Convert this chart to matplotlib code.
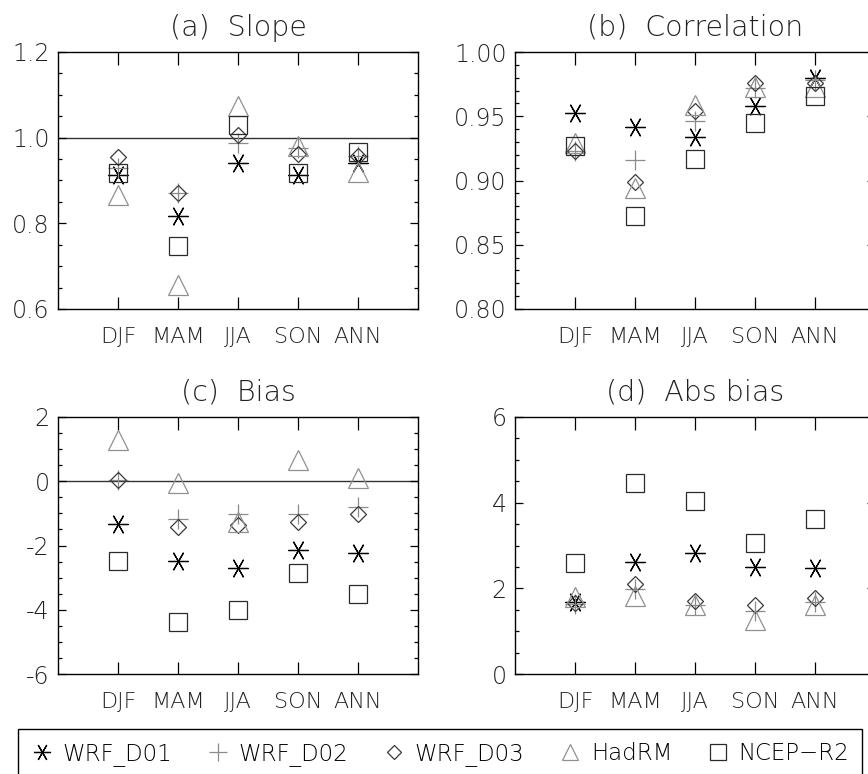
import matplotlib
matplotlib.use("Agg")
import matplotlib.pyplot as plt
from matplotlib.lines import Line2D
from matplotlib.ticker import MultipleLocator, FormatStrFormatter
import numpy as np

# Categories and series
seasons = ["DJF", "MAM", "JJA", "SON", "ANN"]
models = ["WRF_D01", "WRF_D02", "WRF_D03", "HadRM", "NCEP\u2212R2"]

# (a) Slope
slope = {
    "WRF_D01": [0.912, 0.818, 0.941, 0.914, 0.940],
    "WRF_D02": [0.930, 0.870, 0.988, 0.976, 0.958],
    "WRF_D03": [0.955, 0.871, 1.007, 0.963, 0.958],
    "HadRM": [0.867, 0.657, 1.075, 0.981, 0.921],
    "NCEP\u2212R2": [0.918, 0.748, 1.030, 0.917, 0.967],
}
# (b) Correlation
corr = {
    "WRF_D01": [0.9525, 0.942, 0.934, 0.958, 0.980],
    "WRF_D02": [0.923, 0.916, 0.946, 0.972, 0.978],
    "WRF_D03": [0.923, 0.899, 0.954, 0.976, 0.976],
    "HadRM": [0.929, 0.894, 0.959, 0.973, 0.973],
    "NCEP\u2212R2": [0.9265, 0.872, 0.917, 0.945, 0.9655],
}
# (c) Bias
bias = {
    "WRF_D01": [-1.32, -2.47, -2.70, -2.14, -2.22],
    "WRF_D02": [0.05, -1.17, -1.01, -1.01, -0.81],
    "WRF_D03": [0.05, -1.41, -1.35, -1.27, -1.03],
    "HadRM": [1.27, -0.06, -1.27, 0.67, 0.11],
    "NCEP\u2212R2": [-2.47, -4.39, -4.00, -2.86, -3.51],
}
# (d) Abs bias
absbias = {
    "WRF_D01": [1.67, 2.61, 2.83, 2.49, 2.47],
    "WRF_D02": [1.64, 1.99, 1.60, 1.48, 1.67],
    "WRF_D03": [1.65, 2.10, 1.71, 1.60, 1.78],
    "HadRM": [1.79, 1.83, 1.60, 1.25, 1.60],
    "NCEP\u2212R2": [2.59, 4.46, 4.04, 3.06, 3.61],
}

# Marker style for each model (asterisk rotated so one arm is horizontal)
styles = {
    "WRF_D01": dict(marker=(6, 2, 90), color="black", markersize=14.5),
    "WRF_D02": dict(marker="+", color="#8a8a8a", markersize=15),
    "WRF_D03": dict(marker="D", color="#3a3a3a", markersize=8.6),
    "HadRM": dict(marker="^", color="#909090", markersize=14),
    "NCEP\u2212R2": dict(marker="s", color="#2a2a2a", markersize=13),
}

narrow = ["Liberation Sans Narrow", "DejaVu Sans"]
plt.rcParams["font.family"] = ["DejaVu Sans"]
plt.rcParams["font.weight"] = "light"

W, H = 868, 774
fig = plt.figure(figsize=(W / 100, H / 100), dpi=100)


def add_panel(left, top, width=360, height=257):
    return fig.add_axes([left / W, 1 - (top + height) / H, width / W, height / H])


panels = [
    (add_panel(58, 52), "(a)  Slope", slope, (0.6, 1.2), 0.2, 0.05, "%.1f", 1.0),
    (add_panel(515, 52), "(b)  Correlation", corr, (0.8, 1.0), 0.05, 0.01, "%.2f", None),
    (add_panel(58, 417), "(c)  Bias", bias, (-6, 2), 2, 0.5, "%d", 0.0),
    (add_panel(515, 417), "(d)  Abs bias", absbias, (0, 6), 2, 0.5, "%d", None),
]

x = np.arange(1, len(seasons) + 1)

for ax, title, data, ylim, major, minor, fmt, ref in panels:
    ax.set_xlim(0, 6)
    ax.set_ylim(*ylim)
    if ref is not None:
        ax.axhline(ref, color="#333333", lw=1.0, zorder=1)
    for m in models:
        st = styles[m]
        ax.plot(x, data[m], linestyle="none", marker=st["marker"], markersize=st["markersize"],
                color=st["color"], markerfacecolor="none", markeredgecolor=st["color"],
                markeredgewidth=0.9, zorder=3)

    ax.set_xticks(x)
    ax.set_xticklabels(seasons, family=narrow, fontsize=16, color="#222222")
    ax.yaxis.set_major_locator(MultipleLocator(major))
    ax.yaxis.set_minor_locator(MultipleLocator(minor))
    ax.yaxis.set_major_formatter(FormatStrFormatter(fmt))
    for lab in ax.get_yticklabels():
        lab.set_fontsize(17)
        lab.set_color("#222222")
        lab.set_fontweight("light")
    ax.tick_params(axis="x", which="major", direction="in", length=9, width=0.9,
                   top=True, bottom=True, pad=13)
    ax.tick_params(axis="y", which="major", direction="in", length=5.5, width=0.9,
                   left=True, right=True, pad=6)
    ax.tick_params(axis="y", which="minor", direction="in", length=3.2, width=0.9,
                   left=True, right=True)
    for sp in ax.spines.values():
        sp.set_linewidth(1.0)
        sp.set_color("black")
    ax.text(0.5, 1.095, title, transform=ax.transAxes, ha="center", va="center",
            fontsize=20.5, color="#222222", fontweight="light")

# Legend along the bottom
handles = [Line2D([], [], linestyle="none", marker=styles[m]["marker"],
                  markersize=styles[m]["markersize"], markerfacecolor="none",
                  markeredgecolor=styles[m]["color"], markeredgewidth=0.9)
           for m in models]
leg = fig.legend(handles, models, loc="upper left",
                 bbox_to_anchor=(18 / W, 1 - 729 / H, 844 / W, 0),
                 mode="expand", ncol=5, frameon=True, fancybox=False,
                 edgecolor="black", borderaxespad=0, borderpad=0.55,
                 handletextpad=0.4, handlelength=1.0, markerscale=0.85,
                 prop={"family": narrow, "size": 16.5})
leg.get_frame().set_linewidth(1.0)
leg.get_frame().set_alpha(1)

fig.savefig("out.png", dpi=100)
